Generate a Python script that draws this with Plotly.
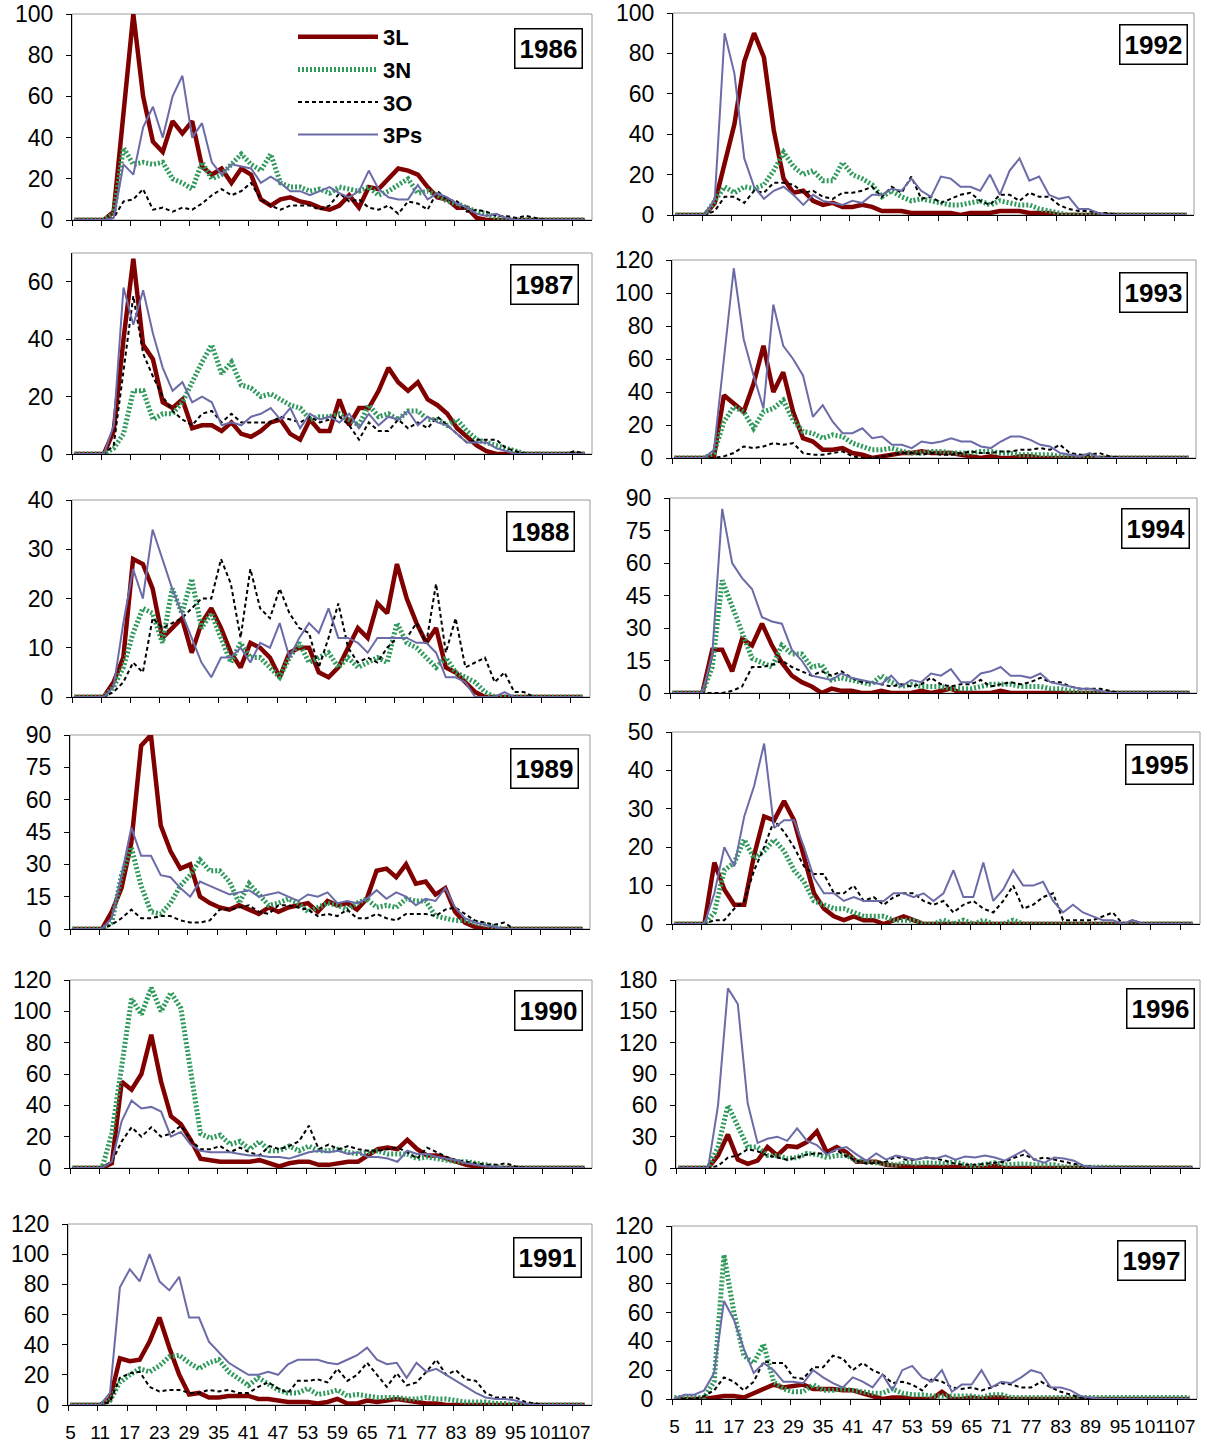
import plotly.graph_objects as go

# ---------------- data ----------------
X = list(range(5, 110, 2))  # size classes 5..109, every 2nd class
TICK_LABELS = [str(v) for v in range(5, 108, 6)]
SERIES = ["3L", "3N", "3O", "3Ps"]

y1986_3L = [0,0,0,0,4, 50,100,60,38,33, 48,42,48,26,22, 25,18,25,22,10, 7,10,11,9,8, 6,5,7,12,6, 16,15,20,25,24, 22,16,11,10,6, 6,1,0,0,0, 0,0,0,0,0, 0,0,0]
y1986_3N = [0,0,0,0,3, 35,27,28,27,28, 20,18,15,28,20, 22,27,32,27,24, 32,18,16,16,14, 15,13,16,15,14, 16,12,14,17,20, 13,14,12,9,8, 6,4,3,1,0, 0,0,0,0,0, 0,0,0]
y1986_3O = [0,0,0,0,1, 9,10,15,5,6, 4,6,5,8,12, 15,12,14,18,10, 7,5,7,7,7, 5,7,13,9,10, 6,5,7,3,9, 8,5,14,10,9, 4,5,4,2,2, 1,2,1,0,0, 0,0,0]
y1986_3Ps = [0,0,0,0,1, 27,22,45,55,40, 60,70,40,47,28, 22,27,26,25,18, 21,18,14,14,12, 14,16,13,11,14, 24,15,11,10,10, 17,10,13,11,8, 6,3,2,3,1, 0,0,0,0,0, 0,0,0]

y1987_3L = [0,0,0,0,8, 40,68,38,33,18, 16,19,9,10,10, 8,11,7,6,8, 11,12,7,5,12, 8,8,19,10,16, 16,22,30,25,22, 25,19,17,14,9, 6,3,1,0,0, 0,0,0,0,0, 0,0,0]
y1987_3N = [0,0,0,0,2, 7,22,22,12,14, 14,18,25,32,38, 28,32,24,23,20, 21,19,17,16,12, 13,13,14,12,10, 17,13,14,12,15, 15,12,12,10,12, 8,5,4,3,2, 1,0,0,0,0, 0,0,0]
y1987_3O = [0,0,0,0,3, 30,55,35,27,20, 15,12,10,14,15, 11,14,11,11,11, 11,13,12,11,13, 11,12,13,10,5, 11,8,8,12,9, 11,9,13,10,7, 4,5,5,5,2, 1,0,0,0,0, 0,1,0]
y1987_3Ps = [0,0,0,0,10, 58,45,57,42,30, 22,25,18,20,18, 10,11,10,13,14, 16,12,16,9,14, 12,13,11,14,9, 14,10,13,12,15, 10,13,11,10,7, 4,4,4,2,1, 0,0,0,0,0, 0,0,0]

y1988_3L = [0,0,0,0,3, 8,28,27,22,12, 14,16,9,15,18, 14,9,6,11,10, 8,4,9,10,10, 5,4,6,10,14, 12,19,17,27,20, 15,11,14,6,5, 3,1,0,0,0, 0,0,0,0,0, 0,0,0]
y1988_3N = [0,0,0,0,2, 6,13,18,17,11, 22,17,24,14,17, 12,7,11,8,8, 6,4,8,11,7, 8,9,6,8,6, 7,8,7,15,11, 10,8,6,8,5, 4,3,1,0,0, 0,0,0,0,0, 0,0,0]
y1988_3O = [0,0,0,0,1, 3,7,5,16,14, 15,16,18,20,20, 28,23,12,26,18, 16,22,17,14,13, 6,12,19,10,7, 8,7,10,12,12, 15,11,23,9,16, 6,7,8,3,5, 1,1,0,0,0, 0,0,0]
y1988_3Ps = [0,0,0,0,2, 15,26,20,34,28, 22,17,12,7,4, 8,8,10,7,11, 10,15,8,12,15, 13,18,12,12,11, 9,12,12,12,12, 11,11,9,4,4, 3,0,0,0,1, 0,0,0,0,0, 0,0,0]

y1989_3L = [0,0,0,0,8, 19,40,85,90,48, 36,28,30,15,12, 10,9,11,9,7, 10,8,10,11,12, 8,13,11,12,9, 14,27,28,24,30, 21,22,16,19,8, 3,1,0,0,0, 0,0,0,0,0, 0,0,0]
y1989_3N = [0,0,0,0,3, 25,38,20,8,7, 12,20,25,32,27, 27,22,12,21,16, 11,12,14,12,8, 10,12,11,9,12, 14,10,11,10,14, 13,13,6,5,4, 4,3,2,1,0, 0,0,0,0,0, 0,0,0]
y1989_3O = [0,0,0,0,2, 5,9,5,5,6, 6,4,3,3,4, 9,9,10,11,8, 7,11,11,10,9, 6,7,6,9,5, 5,7,5,4,7, 7,7,6,9,10, 7,4,3,2,3, 0,0,0,0,0, 0,0,0]
y1989_3Ps = [0,0,0,0,5, 25,47,34,34,25, 24,19,15,22,20, 18,16,17,18,15, 16,17,15,13,16, 15,17,12,13,12, 14,18,14,17,15, 11,14,13,19,10, 5,3,2,1,0, 0,0,0,0,0, 0,0,0]

y1990_3L = [0,0,0,0,3, 55,50,60,85,55, 33,28,18,6,5, 4,4,4,4,5, 3,1,3,4,4, 2,2,3,4,4, 8,12,13,12,18, 12,8,8,6,4, 2,1,0,0,0, 0,0,0,0,0, 0,0,0]
y1990_3N = [0,0,0,0,22, 65,108,98,115,100, 112,102,60,22,19, 21,15,17,12,17, 11,11,14,11,14, 11,11,12,10,9, 10,11,9,9,9, 6,7,6,5,4, 4,3,2,1,0, 0,0,0,0,0, 0,0,0]
y1990_3O = [0,0,0,0,4, 17,26,20,26,20, 22,27,18,12,12, 14,10,13,10,8, 14,12,14,17,27, 12,15,12,14,12, 11,11,12,13,10, 6,13,10,7,5, 4,3,2,2,3, 1,0,0,0,0, 0,0,0]
y1990_3Ps = [0,0,0,0,4, 30,43,38,39,36, 20,23,15,11,10, 10,10,9,8,8, 7,7,6,8,10, 11,10,11,9,10, 7,7,6,4,11, 9,9,7,6,5, 3,2,1,1,0, 0,0,0,0,0, 0,0,0]

y1991_3L = [0,0,0,0,4, 31,29,30,42,58, 38,20,7,8,5, 5,6,6,6,4, 4,3,2,2,2, 1,2,4,1,1, 3,2,3,4,3, 2,1,1,0,0, 0,0,0,0,0, 0,0,0,0,0, 0,0,0]
y1991_3N = [0,0,0,0,3, 15,20,24,22,26, 32,33,28,24,28, 30,22,17,13,18, 14,10,8,8,11, 7,8,10,6,7, 6,5,5,5,4, 4,5,4,4,3, 2,2,2,1,1, 0,0,0,0,0, 0,0,0]
y1991_3O = [0,0,0,0,2, 18,21,22,12,9, 10,10,8,8,10, 9,10,8,8,12, 15,11,8,16,16, 17,15,24,16,20, 28,20,12,21,13, 15,22,30,20,23, 17,16,8,5,5, 5,2,1,0,0, 0,0,0]
y1991_3Ps = [0,0,0,0,8, 78,90,82,100,82, 76,85,58,58,42, 35,28,24,20,20, 22,20,27,30,30, 30,28,27,30,33, 38,30,27,28,18, 28,22,24,20,16, 12,8,5,4,4, 3,1,0,0,0, 0,0,0]

y1992_3L = [0,0,0,0,6, 25,45,76,90,78, 42,18,11,12,7, 5,6,4,4,5, 4,2,2,2,1, 1,1,1,1,0, 1,1,1,2,2, 2,1,1,1,0, 0,0,0,0,0, 0,0,0,0,0, 0,0,0]
y1992_3N = [0,0,0,0,7, 14,11,14,13,15, 22,31,24,20,22, 17,17,26,20,18, 15,9,12,9,7, 8,7,6,5,5, 6,7,5,7,6, 5,5,3,2,1, 0,0,0,0,0, 0,0,0,0,0, 0,0,0]
y1992_3O = [0,0,0,0,2, 9,9,6,12,11, 16,16,15,11,12, 9,8,11,11,12, 14,9,14,11,19, 8,9,6,8,10, 11,7,5,10,10, 7,11,9,9,5, 3,2,2,1,1, 0,0,0,0,0, 0,0,0]
y1992_3Ps = [0,0,0,0,8, 90,70,28,14,8, 12,14,10,5,10, 7,6,5,7,6, 10,10,13,12,18, 12,9,19,18,14, 14,12,20,10,22, 28,17,19,10,8, 9,3,3,1,0, 0,0,0,0,0, 0,0,0]

y1993_3L = [0,0,0,0,1, 38,33,28,45,68, 40,52,28,12,10, 5,5,6,3,2, 0,1,2,3,3, 4,3,3,3,2, 1,0,1,0,0, 1,1,0,0,0, 0,0,0,0,0, 0,0,0,0,0, 0,0,0]
y1993_3N = [0,0,0,0,3, 22,31,28,18,28, 30,35,23,16,15, 12,14,13,9,7, 5,5,6,4,3, 3,4,4,3,3, 3,4,4,3,3, 2,2,2,2,1, 1,1,1,0,0, 0,0,0,0,0, 0,0,0]
y1993_3O = [0,0,0,0,0, 1,3,7,6,7, 9,8,9,3,2, 2,3,4,1,0, 0,1,2,3,3, 2,3,2,2,3, 4,3,3,4,4, 5,5,6,5,8, 3,2,2,3,1, 0,0,0,0,0, 0,0,0]
y1993_3Ps = [0,0,0,0,5, 62,115,72,50,30, 93,68,60,50,25, 32,22,15,15,18, 12,13,8,8,6, 10,9,10,12,10, 10,7,6,10,13, 13,11,8,7,3, 2,1,3,0,0, 0,0,0,0,0, 0,0,0]

y1994_3L = [0,0,0,0,20, 20,10,25,22,32, 22,14,8,5,3, 0,2,1,1,0, 0,1,0,0,0, 1,0,1,2,0, 0,0,0,1,0, 0,0,0,0,0, 0,0,0,0,0, 0,0,0,0,0, 0,0,0]
y1994_3N = [0,0,0,0,12, 52,40,28,16,14, 12,22,18,18,12, 13,6,7,6,5, 4,8,5,3,4, 3,3,3,2,2, 2,3,4,4,4, 3,3,3,2,2, 1,0,0,0,0, 0,0,0,0,0, 0,0,0]
y1994_3O = [0,0,0,0,0, 0,1,3,12,12, 13,15,12,10,8, 10,8,10,7,5, 5,4,3,4,3, 4,7,4,3,4, 4,6,3,4,5, 4,5,7,5,5, 3,2,2,2,1, 0,0,0,0,0, 0,0,0]
y1994_3Ps = [0,0,0,0,18, 85,60,53,48,35, 33,32,20,15,8, 7,6,9,7,6, 5,4,8,3,6, 5,9,8,11,5, 5,9,10,12,8, 8,7,9,5,4, 3,2,2,1,0, 0,0,0,0,0, 0,0,0]

y1995_3L = [0,0,0,0,16, 9,5,5,18,28, 27,32,27,17,8, 4,2,1,2,1, 1,0,1,2,1, 0,0,0,0,0, 0,0,0,0,0, 0,0,0,0,0, 0,0,0,0,0, 0,0,0,0,0, 0,0,0]
y1995_3N = [0,0,0,0,3, 14,16,22,17,19, 22,19,14,11,6, 5,4,4,3,2, 2,2,1,1,1, 0,0,1,0,1, 0,1,0,0,1, 0,0,0,0,0, 0,0,0,0,0, 0,0,0,0,0, 0,0,0]
y1995_3O = [0,0,0,0,1, 1,4,6,14,20, 27,24,20,15,13, 13,8,8,10,6, 7,5,7,8,8, 6,5,6,3,5, 6,4,3,6,10, 4,5,7,8,1, 1,1,1,2,3, 0,1,0,0,0, 0,0,0]
y1995_3Ps = [0,0,0,0,8, 20,15,28,36,47, 25,27,27,20,12, 8,8,6,7,6, 6,6,8,8,7, 8,6,8,14,7, 7,16,6,9,14, 10,10,11,6,3, 5,3,2,1,1, 0,1,0,0,0, 0,0,0]

y1996_3L = [0,0,0,0,12, 32,8,4,7,20, 12,21,20,25,35, 15,20,15,6,6, 6,3,2,2,1, 1,1,2,1,0, 0,0,2,0,0, 0,0,0,0,0, 0,0,0,0,0, 0,0,0,0,0, 0,0,0]
y1996_3N = [0,0,0,0,20, 60,40,20,20,12, 12,9,10,14,13, 10,12,12,7,6, 6,5,3,5,4, 5,5,4,6,3, 2,3,5,3,4, 4,3,3,3,1, 1,0,0,0,0, 0,0,0,0,0, 0,0,0]
y1996_3O = [0,0,0,0,2, 10,12,18,16,12, 10,8,10,13,14, 14,17,11,7,4, 5,6,11,8,8, 10,9,7,4,3, 3,4,5,6,10, 13,8,10,8,6, 4,2,1,0,0, 0,0,0,0,0, 0,0,0]
y1996_3Ps = [0,0,0,0,60, 172,157,62,24,28, 30,26,38,26,22, 13,18,20,13,7, 14,8,12,10,8, 10,9,12,8,11, 10,12,10,7,12, 17,8,5,10,9, 7,2,1,0,0, 0,0,0,0,0, 0,0,0]

y1997_3L = [0,0,0,0,1, 2,2,1,4,7, 10,8,9,10,7, 7,7,6,6,4, 2,0,1,1,0, 0,0,5,0,0, 1,0,1,1,0, 0,0,0,0,0, 0,0,0,0,0, 0,0,0,0,0, 0,0,0]
y1997_3N = [1,1,1,1,12, 100,60,30,25,38, 12,7,5,5,10, 6,6,7,6,5, 4,4,7,4,3, 3,2,2,2,2, 2,1,3,3,1, 1,1,1,1,1, 1,1,1,1,1, 1,1,1,1,1, 1,1,1]
y1997_3O = [0,0,0,2,6, 15,12,6,12,26, 25,25,15,14,22, 22,30,28,20,25, 20,17,11,12,10, 6,14,12,8,7, 8,6,8,11,10, 8,8,12,8,5, 3,1,0,0,0, 0,0,0,0,0, 0,0,0]
y1997_3Ps = [0,3,3,6,18, 68,55,35,18,25, 20,12,12,11,20, 15,11,8,15,12, 8,17,6,20,23, 15,12,20,5,10, 10,20,8,12,11, 15,20,18,8,8, 6,2,1,0,0, 0,0,0,0,0, 0,0,0]

Y_MAX = {1986: 100, 1987: 70, 1988: 40, 1989: 90, 1990: 120, 1991: 120,
         1992: 100, 1993: 120, 1994: 90, 1995: 50, 1996: 180, 1997: 120}
Y_STEP = {1986: 20, 1987: 20, 1988: 10, 1989: 15, 1990: 20, 1991: 20,
          1992: 20, 1993: 20, 1994: 15, 1995: 10, 1996: 30, 1997: 20}

DATA = {yr: {s: globals()[f"y{yr}_{s}"] for s in SERIES} for yr in Y_MAX}

# ---------------- layout geometry (pixels) ----------------
W, H = 1220, 1446
# (year, left, right, top, bottom, box_cx, box_cy)
PANELS = [
    (1986, 72, 592, 14, 220, 548, 49),
    (1987, 72, 592, 253, 454, 544, 285),
    (1988, 72, 590, 500, 697, 540, 531),
    (1989, 70, 590, 735, 929, 544, 768),
    (1990, 70, 592, 980, 1168, 548, 1011),
    (1991, 68, 592, 1224, 1405, 547, 1257),
    (1992, 673, 1194, 13, 215, 1153, 44),
    (1993, 672, 1196, 260, 458, 1153, 293),
    (1994, 670, 1197, 498, 693, 1155, 528),
    (1995, 672, 1200, 732, 924, 1159, 764),
    (1996, 676, 1200, 980, 1168, 1160, 1008),
    (1997, 672, 1197, 1226, 1399, 1151, 1260),
]

STYLE = {
    "3L": dict(color="#800000", width=4.5, dash="solid"),
    "3N": dict(color="#2f9a5c", width=5, dash="2px,2px"),
    "3O": dict(color="#000000", width=2, dash="4px,3px"),
    "3Ps": dict(color="#6b6ba8", width=2, dash="solid"),
}

FONT = "Liberation Sans, Arial, sans-serif"

fig = go.Figure()
layout = dict(
    width=W, height=H, margin=dict(l=0, r=0, t=0, b=0, pad=0, autoexpand=False),
    autosize=False, paper_bgcolor="white", plot_bgcolor="white",
    font=dict(family=FONT, color="black"),
    showlegend=True,
    legend=dict(x=293 / W, y=1 - 16 / H, xanchor="left", yanchor="top",
                bgcolor="rgba(0,0,0,0)", borderwidth=0, itemwidth=80,
                tracegroupgap=1,
                font=dict(family=FONT, size=22, color="black", weight="bold")),
)
shapes, annotations = [], []

for i, (yr, xl, xr, yt, yb, bx, by) in enumerate(PANELS, start=1):
    xa = "xaxis" if i == 1 else f"xaxis{i}"
    ya = "yaxis" if i == 1 else f"yaxis{i}"
    xr_ref = "x" if i == 1 else f"x{i}"
    yr_ref = "y" if i == 1 else f"y{i}"
    bottom_row = yr in (1991, 1997)
    layout[xa] = dict(
        domain=[xl / W, xr / W], anchor=yr_ref, range=[4.5, 110.5], automargin=False,
        showgrid=False, zeroline=False, showline=True, linecolor="black", linewidth=1.2,
        tickmode="array", tickvals=list(range(5, 108, 6)), ticktext=TICK_LABELS,
        ticks="", showticklabels=bottom_row, ticklabelstandoff=10, tickangle=0,
        ticklabeloverflow="allow",
        tickfont=dict(family=FONT, size=19, color="black"),
        minor=dict(tickmode="array", tickvals=[4.5 + 6 * k for k in range(18)],
                   ticks="outside", ticklen=5, tickcolor="black", tickwidth=1),
        fixedrange=True,
    )
    layout[ya] = dict(
        domain=[1 - yb / H, 1 - yt / H], anchor=xr_ref, range=[0, Y_MAX[yr]],
        automargin=False, ticklabeloverflow="allow",
        showgrid=False, zeroline=False, showline=True, linecolor="black", linewidth=1.2,
        tickmode="linear", tick0=0, dtick=Y_STEP[yr],
        ticks="outside", ticklen=5, tickcolor="black", ticklabelstandoff=8,
        tickfont=dict(family=FONT, size=23, color="black"),
        fixedrange=True,
    )
    shapes.append(dict(type="rect", xref=f"{xr_ref} domain", yref=f"{yr_ref} domain",
                       x0=0, x1=1, y0=0, y1=1, line=dict(color="#9a9a9a", width=1),
                       layer="below"))
    annotations.append(dict(text=str(yr), xref="paper", yref="paper",
                            x=bx / W, y=1 - by / H, xanchor="center", yanchor="middle",
                            showarrow=False, bordercolor="black", borderwidth=1.5,
                            borderpad=4, bgcolor="white",
                            font=dict(family=FONT, size=26, color="black", weight="bold")))
    for s in SERIES:
        st = STYLE[s]
        fig.add_trace(go.Scatter(
            x=X, y=DATA[yr][s], mode="lines", name=s,
            line=dict(color=st["color"], width=st["width"], dash=st["dash"]),
            xaxis=xr_ref, yaxis=yr_ref, legendgroup=s, showlegend=(i == 1),
            hoverinfo="skip",
        ))

layout["shapes"] = shapes
layout["annotations"] = annotations
fig.update_layout(**layout)

POST = """
document.documentElement.style.margin='0';
document.documentElement.style.overflow='hidden';
document.body.style.margin='0';
document.body.style.overflow='hidden';
"""
fig.write_html("out.html", config={"displayModeBar": False}, post_script=POST)
